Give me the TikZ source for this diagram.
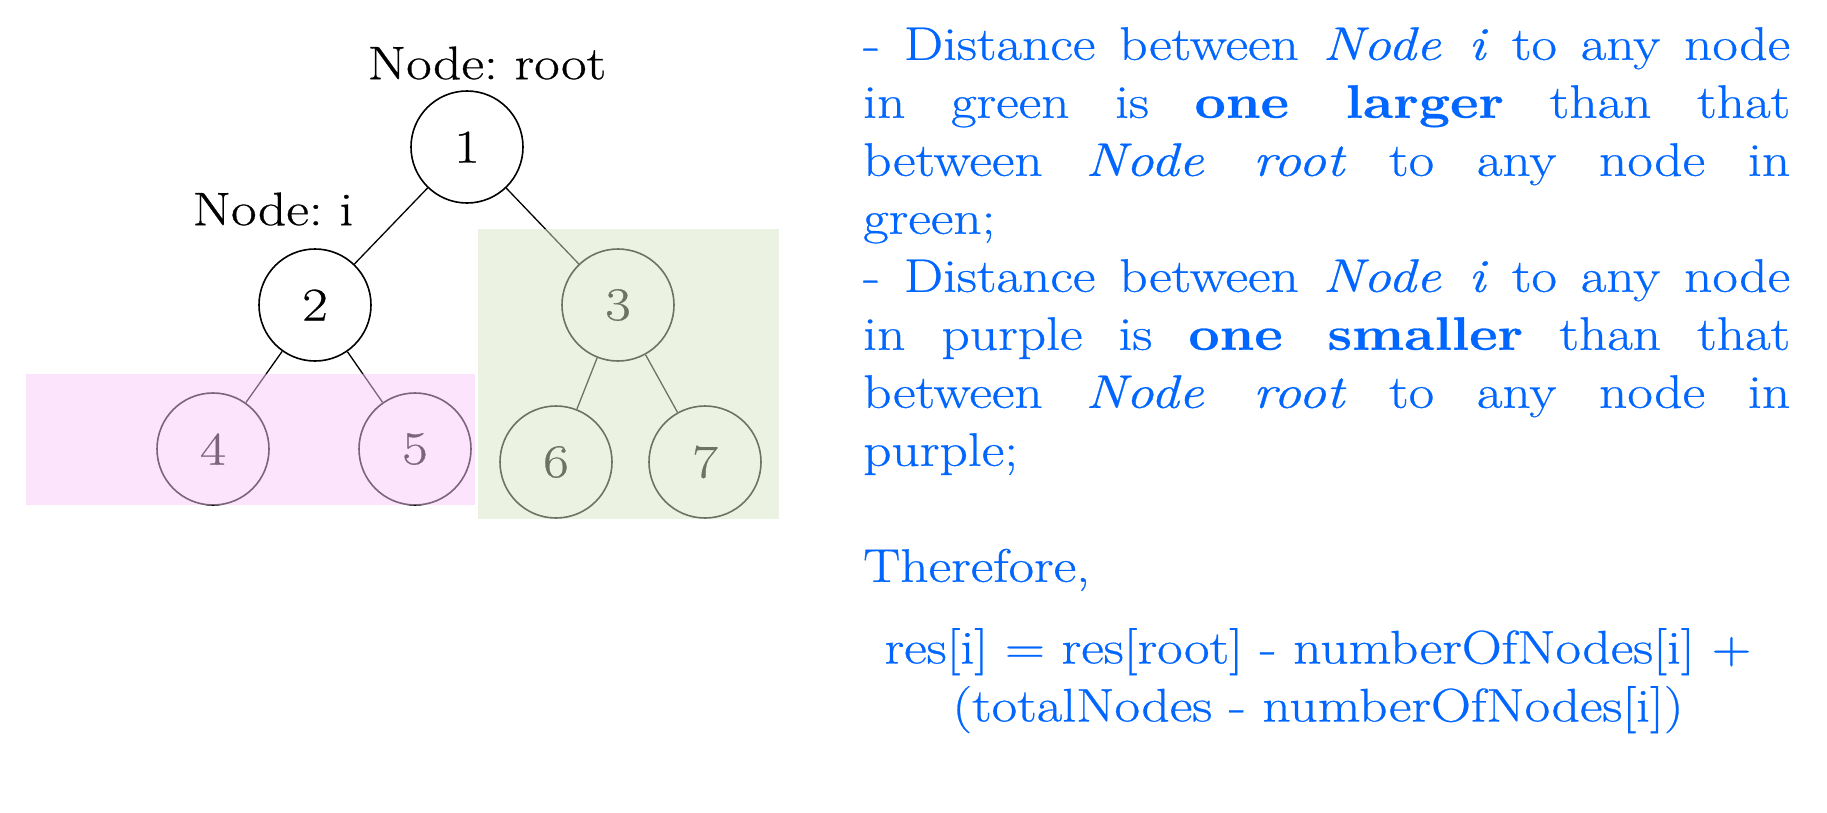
\documentclass[tikz,border=0pt]{standalone}
\usepackage{fontspec}
\setmainfont{Latin Modern Roman}[FakeStretch=1.18, FakeBold=0.6]
\usepackage{tikz}
\usetikzlibrary{positioning}
\definecolor{txtblue}{RGB}{0,102,255}
\definecolor{pinkbox}{RGB}{249,201,251}
\definecolor{greenbox}{RGB}{216,230,195}
\frenchspacing

\begin{document}
\begin{tikzpicture}[node distance=158pt and 152pt, on grid,
    font=\fontsize{47}{58}\selectfont,
    vertex/.style={circle, draw, line width=1.6pt, minimum size=112pt, inner sep=0pt},
    edge/.style={line width=1.3pt}]
  \useasboundingbox (0,0) rectangle (1827pt,-812pt);
  % the tree
  \node[vertex] (n1) at (467pt,-147pt) {1};
  \node[vertex, below left=of n1] (n2) {2};
  \node[vertex, below right=158pt and 151pt of n1] (n3) {3};
  \node[vertex, below left=144pt and 102pt of n2] (n4) {4};
  \node[vertex, below right=144pt and 100pt of n2] (n5) {5};
  \node[vertex, below left=157pt and 62pt of n3] (n6) {6};
  \node[vertex, below right=157pt and 87pt of n3] (n7) {7};
  \draw[edge] (n1) -- (n2); \draw[edge] (n1) -- (n3);
  \draw[edge] (n2) -- (n4); \draw[edge] (n2) -- (n5);
  \draw[edge] (n3) -- (n6); \draw[edge] (n3) -- (n7);
  % shaded groups on top
  \fill[pinkbox, fill opacity=0.5] (26pt,-374pt) rectangle (475pt,-505pt);
  \fill[greenbox, fill opacity=0.5] (478pt,-229pt) rectangle (779pt,-519pt);
  \node[anchor=base, inner sep=0pt] (rootlbl) at ([shift={(20pt,11pt)}]n1.north) {Node: root};
  \node[anchor=base, inner sep=0pt] (ilbl) at ([shift={(-42pt,23pt)}]n2.north) {Node: i};
  % explanation
  \node[anchor=north west, text width=927pt, align=justify, inner sep=0pt, text=txtblue] (txt) at (863pt,-27pt) {%
    -\hspace{24pt}Distance between \textit{Node i} to any node\linebreak
    in green is \textbf{one larger} than that\linebreak
    between \textit{Node root} to any node in\linebreak
    green;\par
    -\hspace{24pt}Distance between \textit{Node i} to any node\linebreak
    in purple is \textbf{one smaller} than that\linebreak
    between \textit{Node root} to any node in\linebreak
    purple;\par
    \mbox{}\par
    Therefore,};
  \node[anchor=north, align=center, inner sep=0pt, text=txtblue] (formula) at (1318pt,-628pt)
    {res[i] = res[root] - numberOfNodes[i] +\\ (totalNodes - numberOfNodes[i])};
\end{tikzpicture}
\end{document}
